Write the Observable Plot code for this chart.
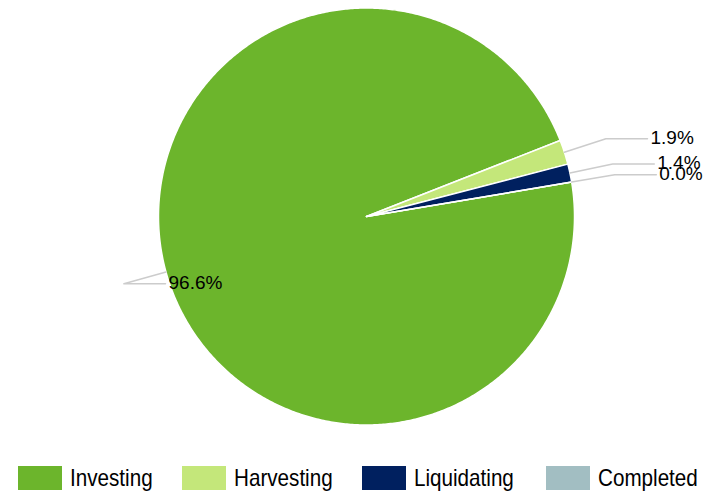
<!DOCTYPE html>
<html>
<head>
<meta charset="utf-8">
<script src="https://cdn.jsdelivr.net/npm/d3@7"></script>
<script src="https://cdn.jsdelivr.net/npm/@observablehq/plot@0.6"></script>
<style>
  body { margin: 0; background: #fff; font-family: "Liberation Sans", Arial, sans-serif; }
  #legend { position: relative; height: 38px; width: 711px; }
  .sw { position: absolute; top: 11px; width: 44px; height: 24px; }
  .lt { position: absolute; top: 8px; font-size: 24px; line-height: 30px; color: #000; white-space: nowrap;
        transform: scaleX(0.86); transform-origin: left center; }
</style>
</head>
<body>
<div id="chart"></div>
<div id="legend"></div>
<script>
const categories = ["Investing", "Harvesting", "Liquidating", "Completed"];
const values = [96.6, 1.9, 1.4, 0.0];
const labels = ["96.6%", "1.9%", "1.4%", "0.0%"];
const colors = ["#6cb52c", "#c4e77a", "#00205f", "#a2bec2"];

const startDeg = 80.5;
const total = d3.sum(values);
const toRad = d => d * Math.PI / 180;

// build slice polygons and label leaders from values
const slices = [];
const leaders = [];
const texts = [];
let acc = startDeg;
categories.forEach((cat, i) => {
  const sweep = values[i] / total * 360;
  const a0 = acc, a1 = acc + sweep;
  slices.push({cat, x: 0, y: 0});
  const n = Math.max(1, Math.ceil(sweep / 0.5));
  for (let k = 0; k <= n; k++) {
    const a = toRad(a0 + (a1 - a0) * k / n);
    slices.push({cat, x: Math.sin(a), y: Math.cos(a)});
  }
  const m = toRad((a0 + a1) / 2);
  const ex = 1.21 * Math.sin(m), ey = 1.21 * Math.cos(m);
  leaders.push({cat, x: Math.sin(m), y: Math.cos(m)});
  leaders.push({cat, x: ex, y: ey});
  leaders.push({cat, x: ex + 0.2, y: ey});
  texts.push({cat, label: labels[i], x: ex + 0.2, y: ey});
  acc = a1;
});

const chart = Plot.plot({
  width: 711,
  height: 455,
  margin: 0,
  x: {domain: [-1, 1], range: [158, 574], axis: null},
  y: {domain: [-1, 1], range: [424.5, 7.5], axis: null},
  color: {domain: categories, range: colors},
  style: {fontFamily: "'Liberation Sans', Arial, sans-serif", background: "#fff"},
  marks: [
    Plot.line(slices, {x: "x", y: "y", z: "cat", fill: "cat", stroke: "white", strokeWidth: 1.5, curve: "linear-closed"}),
    Plot.line(leaders, {x: "x", y: "y", z: "cat", stroke: "#cccccc", strokeWidth: 1.5}),
    Plot.text(texts, {x: "x", y: "y", text: "label", textAnchor: "start", dx: 3, dy: -1, fontSize: 19, fill: "#000"})
  ]
});
document.getElementById("chart").appendChild(chart);

const legendX = [18, 182, 362, 546];
const legend = document.getElementById("legend");
categories.forEach((cat, i) => {
  const sw = document.createElement("div");
  sw.className = "sw";
  sw.style.left = legendX[i] + "px";
  sw.style.background = colors[i];
  const t = document.createElement("div");
  t.className = "lt";
  t.style.left = (legendX[i] + 52) + "px";
  t.textContent = cat;
  legend.appendChild(sw); legend.appendChild(t);
});
</script>
</body>
</html>
